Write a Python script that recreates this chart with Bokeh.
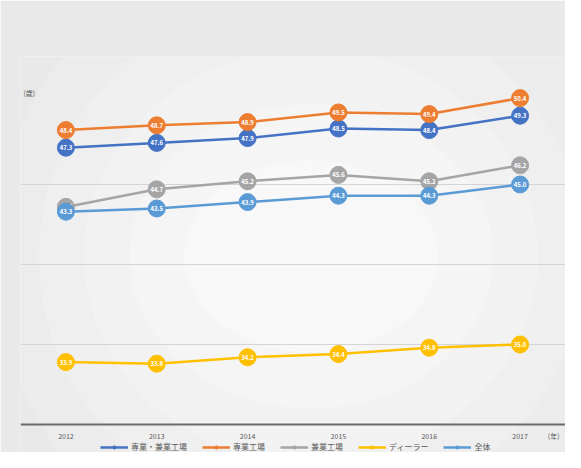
from bokeh.plotting import figure
from bokeh.models import (ColumnDataSource, Range1d, Legend, LegendItem, Label, Span, FixedTicker)
from bokeh.core.properties import value
from bokeh.embed import file_html
from bokeh.resources import INLINE

years = [2012, 2013, 2014, 2015, 2016, 2017]
year_labels = ["2012", "2013", "2014", "2015", "2016", "2017"]

series_names = ["専業・兼業工場", "専業工場", "兼業工場", "ディーラー", "全体"]
s_combined = [47.3, 47.6, 47.9, 48.5, 48.4, 49.3]
s_senmon = [48.4, 48.7, 48.9, 49.5, 49.4, 50.4]
s_kengyo = [43.6, 44.7, 45.2, 45.6, 45.2, 46.2]
s_dealer = [33.9, 33.8, 34.2, 34.4, 34.8, 35.0]
s_total = [43.3, 43.5, 43.9, 44.3, 44.3, 45.0]

series_values = [s_combined, s_senmon, s_kengyo, s_dealer, s_total]
colors = ["#4472C4", "#ED7D31", "#A5A5A5", "#FFC000", "#5B9BD5"]

FONT = "Noto Sans CJK JP"
Y_BASE = 30.0

p = figure(width=565, height=452, output_backend="svg", toolbar_location=None,
           x_range=Range1d(2011.5, 2017.5), y_range=Range1d(28.25, 53.0),
           min_border_left=20, min_border_right=0, min_border_top=56, min_border_bottom=0)

p.background_fill_color = "#e9e9e9"
p.border_fill_color = "#e9e9e9"
p.outline_line_color = None

# soft radial glow (decorative background)
for w, h, a in [(7.0, 40, 0.16), (6.0, 33, 0.2), (5.0, 26, 0.22), (4.0, 19, 0.25), (2.8, 12, 0.3)]:
    p.ellipse(x=[2014.7], y=[40.5], width=[w], height=[h], fill_color="white",
              fill_alpha=a, line_color=None, level="underlay")

p.xaxis.visible = False
p.yaxis.visible = False
p.ygrid.ticker = FixedTicker(ticks=[35, 40, 45])
p.ygrid.grid_line_color = "#d4d4d4"
p.ygrid.grid_line_width = 1
p.xgrid.visible = False

# axis line at the base value
p.add_layout(Span(location=Y_BASE, dimension="width", line_color="#6b6b6b", line_width=2))

# year tick labels
tick_src = ColumnDataSource(dict(x=years, y=[Y_BASE] * len(years), t=year_labels))
p.text("x", "y", text="t", source=tick_src, y_offset=11, text_font=value(FONT),
       text_font_size="7px", text_color="#595959", text_align="center", text_baseline="middle")

legend_items = []
for name, vals, c in zip(series_names, series_values, colors):
    src = ColumnDataSource(dict(x=years, y=vals, lab=[f"{v:.1f}" for v in vals]))
    lr = p.line("x", "y", source=src, line_color=c, line_width=2.5)
    sr = p.scatter("x", "y", source=src, size=5, fill_color=c, line_color=c)
    p.scatter("x", "y", source=src, size=17, fill_color=c, line_color=c)
    p.text("x", "y", text="lab", source=src, text_color="white", text_font=value(FONT),
           text_font_size="6px", text_font_style="bold", text_align="center", text_baseline="middle")
    legend_items.append(LegendItem(label=name, renderers=[lr, sr]))

legend = Legend(items=legend_items, orientation="horizontal", location=(80, 0),
                label_text_font=FONT, label_text_font_size="8px", label_text_color="#595959",
                glyph_width=28, glyph_height=8, spacing=15, padding=0, margin=0,
                label_standoff=3, label_height=8, background_fill_alpha=0, border_line_color=None)
p.add_layout(legend, "center")

p.add_layout(Label(x=2011.5, y=50.7, x_offset=3, text="(歳)", text_font=FONT,
                   text_font_size="7px", text_color="#595959", text_baseline="middle"))
p.add_layout(Label(x=2017.37, y=Y_BASE, y_offset=-11, text="(年)", text_font=FONT,
                   text_font_size="7px", text_color="#595959", text_align="center",
                   text_baseline="middle"))

open("out.html", "w").write(file_html(p, INLINE))
